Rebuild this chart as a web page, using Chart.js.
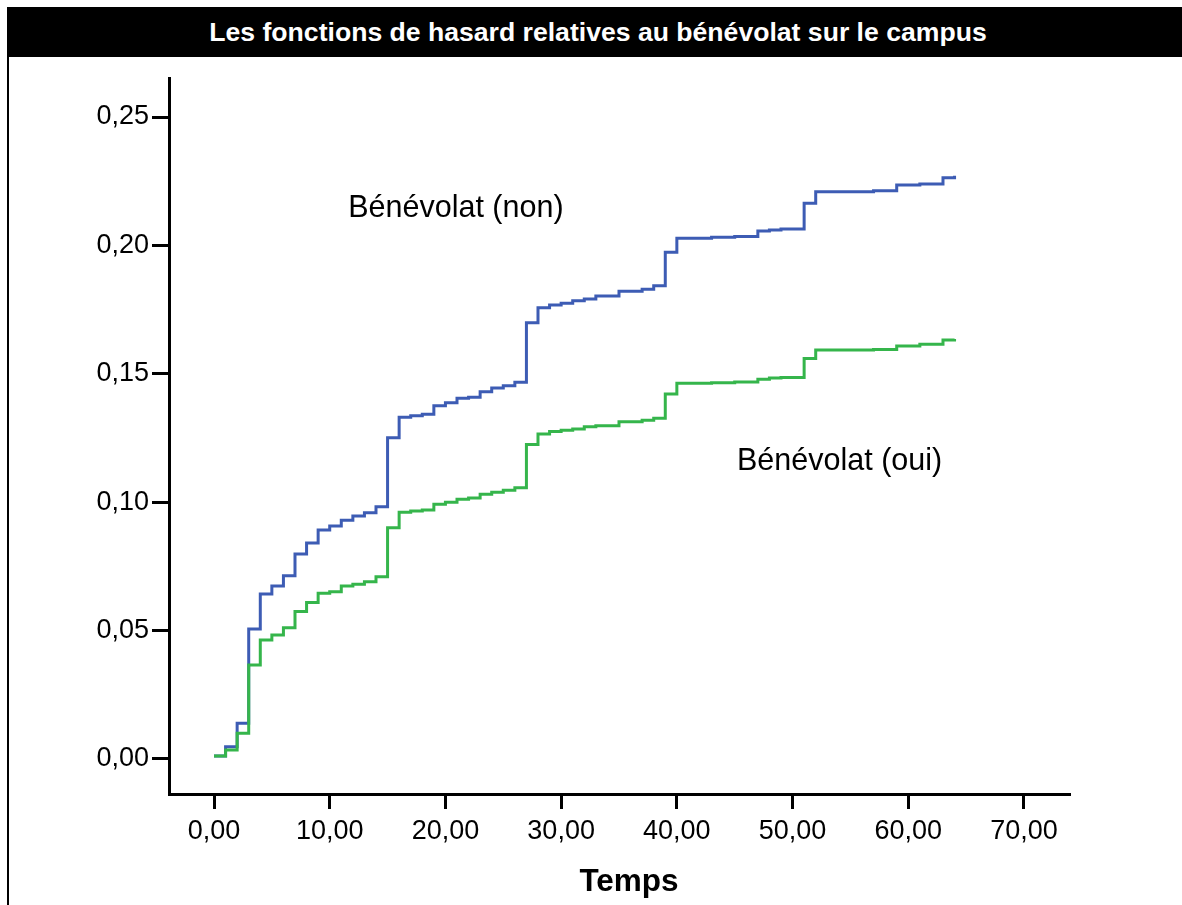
<!DOCTYPE html>
<html lang="fr">
<head>
<meta charset="utf-8">
<title>Les fonctions de hasard relatives au bénévolat sur le campus</title>
<script src="https://cdn.jsdelivr.net/npm/chart.js@4/dist/chart.umd.min.js"></script>
<style>
  body { margin: 0; background: #fff; }
  #wrap { position: relative; width: 1182px; height: 905px; overflow: hidden; }
  #chartTitle {
    position: absolute; left: 7px; top: 7px; width: 1175px; height: 50px;
    background: #000; color: #fff;
    font: bold 26.6px "Liberation Sans", Arial, sans-serif;
    line-height: 50px; text-align: center; box-sizing: border-box; padding-left: 7px;
  }
  #leftBorder { position: absolute; left: 7px; top: 57px; width: 2px; height: 848px; background: #000; }
  canvas { position: absolute; left: 0; top: 0; }
</style>
</head>
<body>
<div id="wrap">
  <canvas id="hazardChart" width="1182" height="905"></canvas>
  <div id="chartTitle">Les fonctions de hasard relatives au bénévolat sur le campus</div>
  <div id="leftBorder"></div>
</div>
<script>
// --- Data ---
const times = [0, 1, 2, 3, 4, 5, 6, 7, 8, 9, 10, 11, 12, 13, 14, 15, 16, 17, 18, 19,
    20, 21, 22, 23, 24, 25, 26, 27, 28, 29, 30, 31, 32, 33, 35, 37, 38, 39, 40, 43,
    45, 47, 48, 49, 51, 52, 57, 59, 61, 63, 64];

const hazardNon = [0.0012, 0.0048, 0.0139, 0.0506, 0.0643, 0.0674, 0.0714, 0.0798, 0.0841, 0.0892,
    0.0907, 0.0930, 0.0946, 0.0959, 0.0982, 0.1251, 0.1331, 0.1337, 0.1343, 0.1376,
    0.1387, 0.1405, 0.1409, 0.1430, 0.1445, 0.1454, 0.1467, 0.1699, 0.1757, 0.1768,
    0.1775, 0.1785, 0.1791, 0.1803, 0.1822, 0.1829, 0.1843, 0.1973, 0.2028, 0.2032,
    0.2035, 0.2056, 0.2060, 0.2064, 0.2164, 0.2209, 0.2213, 0.2235, 0.2239, 0.2264, 0.2271];

const hazardOui = [0.0012, 0.0035, 0.0100, 0.0366, 0.0463, 0.0483, 0.0511, 0.0574, 0.0609, 0.0645,
    0.0651, 0.0674, 0.0681, 0.0690, 0.0710, 0.0901, 0.0961, 0.0966, 0.0970, 0.0992,
    0.1000, 0.1012, 0.1016, 0.1031, 0.1039, 0.1047, 0.1056, 0.1225, 0.1266, 0.1275,
    0.1280, 0.1285, 0.1294, 0.1298, 0.1313, 0.1319, 0.1327, 0.1421, 0.1463, 0.1465,
    0.1468, 0.1479, 0.1484, 0.1486, 0.1560, 0.1593, 0.1595, 0.1608, 0.1615, 0.1632, 0.1636];

const xTicks = [0, 10, 20, 30, 40, 50, 60, 70];
const yTicks = [0, 0.05, 0.10, 0.15, 0.20, 0.25];
const xAxisTitle = 'Temps';

// series labels written inside the plot (data coordinates of the text's left/middle)
const seriesLabels = [
    { text: 'Bénévolat (non)', t: 11.6, v: 0.2142 },
    { text: 'Bénévolat (oui)', t: 45.2, v: 0.1157 }
];

const FONT = '"Liberation Sans", Arial, sans-serif';

function toPoints(values) {
    return times.map((t, i) => ({ x: t, y: values[i] }));
}

function frNumber(value) {
    return Number(value).toFixed(2).replace('.', ',');
}

// draws the two series names inside the plot and the x axis title
const textPlugin = {
    id: 'chartTexts',
    afterDatasetsDraw(chart) {
        const { ctx, scales, chartArea } = chart;
        ctx.save();
        ctx.fillStyle = '#000';
        ctx.font = '30.5px ' + FONT;
        ctx.textAlign = 'left';
        ctx.textBaseline = 'middle';
        seriesLabels.forEach(lbl => {
            ctx.fillText(lbl.text, scales.x.getPixelForValue(lbl.t), scales.y.getPixelForValue(lbl.v));
        });

        // x axis title, a bit right of centre like the original
        ctx.font = 'bold 31.5px ' + FONT;
        ctx.textAlign = 'center';
        ctx.fillText(xAxisTitle, (chartArea.left + chartArea.right) / 2 + 10, chart.height - 23);
        ctx.restore();
    }
};

const ctx = document.getElementById('hazardChart').getContext('2d');
new Chart(ctx, {
    type: 'line',
    data: {
        datasets: [
            {
                label: 'Bénévolat (oui)',
                data: toPoints(hazardOui),
                borderColor: '#35b54b',
                borderWidth: 3,
                stepped: true,
                pointRadius: 0,
                fill: false
            },
            {
                label: 'Bénévolat (non)',
                data: toPoints(hazardNon),
                borderColor: '#3d5cb4',
                borderWidth: 3,
                stepped: true,
                pointRadius: 0,
                fill: false
            }
        ]
    },
    options: {
        responsive: false,
        devicePixelRatio: 1,
        animation: false,
        layout: { padding: { top: 78, right: 113, bottom: 0, left: 0 } },
        plugins: {
            legend: { display: false },
            tooltip: { enabled: false }
        },
        scales: {
            x: {
                type: 'linear',
                min: -3.889,
                max: 73.89,
                afterBuildTicks: scale => { scale.ticks = xTicks.map(v => ({ value: v })); },
                afterFit: scale => { scale.height = 111; },
                border: { display: true, color: '#000', width: 3 },
                grid: { drawOnChartArea: false, drawTicks: true, tickLength: 15, color: '#000', lineWidth: 3 },
                ticks: {
                    color: '#000',
                    padding: 6,
                    maxRotation: 0,
                    font: { family: FONT, size: 27 },
                    callback: value => frNumber(value)
                }
            },
            y: {
                type: 'linear',
                min: -0.01363,
                max: 0.2652,
                afterBuildTicks: scale => { scale.ticks = yTicks.map(v => ({ value: v })); },
                afterFit: scale => { scale.width = 169; },
                border: { display: true, color: '#000', width: 3 },
                grid: { drawOnChartArea: false, drawTicks: true, tickLength: 17, color: '#000', lineWidth: 3 },
                ticks: {
                    color: '#000',
                    padding: 3,
                    font: { family: FONT, size: 27 },
                    callback: value => frNumber(value)
                }
            }
        }
    },
    plugins: [textPlugin]
});
</script>
</body>
</html>
